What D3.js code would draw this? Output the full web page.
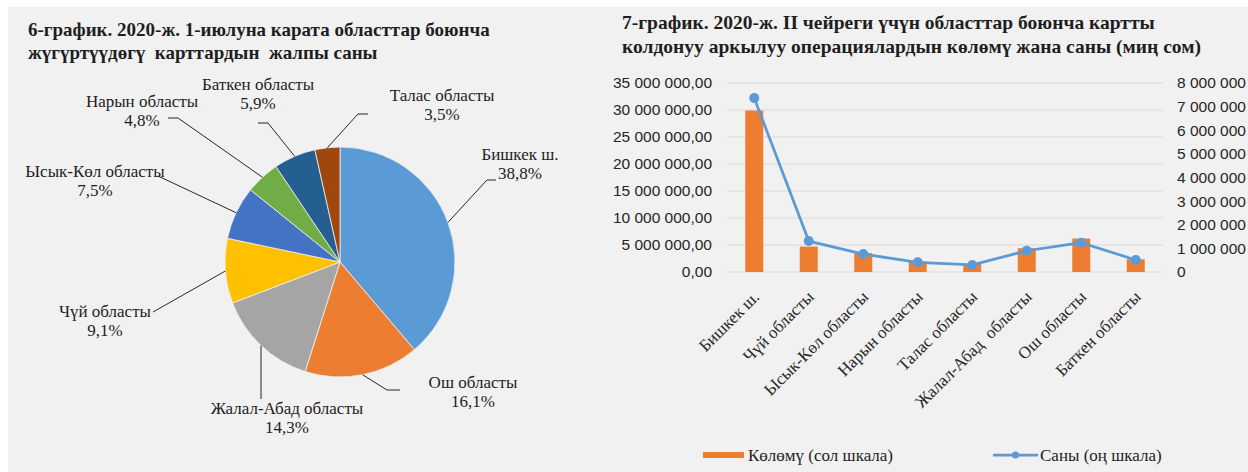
<!DOCTYPE html>
<html>
<head>
<meta charset="utf-8">
<script src="https://cdn.jsdelivr.net/npm/d3@7"></script>
<style>
  html, body { margin: 0; padding: 0; background: #ffffff; }
  svg { display: block; }
</style>
</head>
<body>
<svg id="chart" width="1248" height="472"></svg>
<script>
// ---------- DATA ----------
// Pie (6-график)
const pieCategories = ["Бишкек ш.", "Ош областы", "Жалал-Абад областы", "Чүй областы",
                       "Ысык-Көл областы", "Нарын областы", "Баткен областы", "Талас областы"];
const pieShares = [38.8, 16.1, 14.3, 9.1, 7.5, 4.8, 5.9, 3.5];

// Combo chart (7-график)
const categories = ["Бишкек ш.", "Чүй областы", "Ысык-Көл областы", "Нарын областы",
                    "Талас областы", "Жалал-Абад  областы", "Ош областы", "Баткен областы"];
const volumeValues = [29900000, 4700000, 3500000, 1900000, 1500000, 4400000, 6200000, 2350000];
const countValues  = [7360000, 1310000, 760000, 410000, 300000, 900000, 1240000, 510000];
const leftTicks  = [0, 5000000, 10000000, 15000000, 20000000, 25000000, 30000000, 35000000];
const rightTicks = [0, 1000000, 2000000, 3000000, 4000000, 5000000, 6000000, 7000000, 8000000];

const title1 = ["6-график. 2020-ж. 1-июлуна карата областтар боюнча",
                "жүгүртүүдөгү  карттардын  жалпы саны"];
const title2 = ["7-график. 2020-ж. II чейреги үчүн областтар боюнча картты",
                "колдонуу аркылуу операциялардын көлөмү жана саны (миң сом)"];
const legendLabels = ["Көлөмү (сол шкала)", "Саны (оң шкала)"];

// ---------- STYLE / LAYOUT ----------
const pieColors = ["#5b9bd5", "#ed7d31", "#a5a5a5", "#ffc000", "#4472c4", "#70ad47", "#255e91", "#9e480e"];
const serif = "'Liberation Serif', 'Times New Roman', serif";
const sans = "'Liberation Sans', Arial, sans-serif";
const textColor = "#1e1e1e";

// label layout for pie: text centre x, first baseline y, leader path points after the edge point
const pieLabelLayout = [
  { tx: 520, ty: 160, pts: [[487, 180], [496, 180]] },
  { tx: 473, ty: 388, pts: [[387, 390], [400, 390]] },
  { tx: 287, ty: 414, pts: [[261, 399]] },
  { tx: 105, ty: 317, pts: [[153, 312]] },
  { tx: 95,  ty: 177, pts: [[158, 176]] },
  { tx: 142, ty: 107, pts: [[178, 118], [168, 118]] },
  { tx: 258, ty: 90,  pts: [[268, 123], [258, 123]] },
  { tx: 442, ty: 101, pts: [[358, 114], [368, 114]] }
];

const svg = d3.select("#chart");

// background panel
svg.append("rect").attr("x", 8).attr("y", 7).attr("width", 1240).attr("height", 465).attr("fill", "#f1f1f1");

// ---------- TITLES ----------
function drawTitle(lines, x, y0, dy, size) {
  const t = svg.append("text").attr("x", x).attr("y", y0)
    .attr("font-family", serif).attr("font-weight", "bold").attr("font-size", size)
    .attr("fill", textColor).style("white-space", "pre");
  lines.forEach((l, i) => t.append("tspan").attr("x", x).attr("y", y0 + i * dy).text(l));
}
drawTitle(title1, 28, 36, 23, 19);
drawTitle(title2, 622, 29, 24, 19.5);

// ---------- PIE ----------
const cx = 340, cy = 262, R = 115;
const pie = d3.pie().sort(null).value(d => d)(pieShares);
const arc = d3.arc().innerRadius(0).outerRadius(R);
const gPie = svg.append("g").attr("transform", `translate(${cx},${cy})`);
gPie.selectAll("path").data(pie).join("path")
  .attr("d", arc)
  .attr("fill", (d, i) => pieColors[i])
  .attr("stroke", "#f1f1f1").attr("stroke-width", 0.8);

const fmtPct = v => d3.format(".1f")(v).replace(".", ",") + "%";
pie.forEach((d, i) => {
  const a = (d.startAngle + d.endAngle) / 2;
  const ex = cx + R * Math.sin(a), ey = cy - R * Math.cos(a);
  const L = pieLabelLayout[i];
  const pts = [[ex, ey], ...L.pts];
  svg.append("path").attr("d", d3.line()(pts))
    .attr("fill", "none").attr("stroke", "#262626").attr("stroke-width", 1);
  const t = svg.append("text").attr("font-family", serif).attr("font-size", 17)
    .attr("fill", textColor).attr("text-anchor", "middle");
  t.append("tspan").attr("x", L.tx).attr("y", L.ty).text(pieCategories[i]);
  t.append("tspan").attr("x", L.tx).attr("y", L.ty + 19).text(fmtPct(pieShares[i]));
});

// ---------- COMBO CHART ----------
const x0 = 727, x1 = 1163, yTop = 83, yBot = 272;
const x = d3.scaleBand().domain(categories).range([x0, x1]).padding(0);
const yL = d3.scaleLinear().domain([0, 35000000]).range([yBot, yTop]);
const yR = d3.scaleLinear().domain([0, 8000000]).range([yBot, yTop]);

// gridlines
svg.append("g").selectAll("line").data(leftTicks).join("line")
  .attr("x1", x0).attr("x2", x1)
  .attr("y1", d => yL(d)).attr("y2", d => yL(d))
  .attr("stroke", "#d9d9d9").attr("stroke-width", 1.2);

const fmtLeft = v => d3.format(",.2f")(v).replace(/,/g, " ").replace(".", ",");
const fmtRight = v => d3.format(",")(v).replace(/,/g, " ");

const axL = svg.append("g").attr("transform", `translate(${x0},0)`)
  .call(d3.axisLeft(yL).tickValues(leftTicks).tickFormat(fmtLeft).tickSize(0).tickPadding(15));
const axR = svg.append("g").attr("transform", `translate(${x1},0)`)
  .call(d3.axisRight(yR).tickValues(rightTicks).tickFormat(fmtRight).tickSize(0).tickPadding(14));
[axL, axR].forEach(ax => {
  ax.select(".domain").remove();
  ax.selectAll("text").attr("font-family", sans).attr("font-size", 15.5).attr("fill", "#262626");
});

// bars
const bw = x.bandwidth() * 0.33;
svg.append("g").selectAll("rect").data(categories).join("rect")
  .attr("x", d => x(d) + x.bandwidth() / 2 - bw / 2)
  .attr("width", bw)
  .attr("y", (d, i) => yL(volumeValues[i]))
  .attr("height", (d, i) => yBot - yL(volumeValues[i]))
  .attr("fill", "#ed7d31");

// line
const line = d3.line().x((d, i) => x(categories[i]) + x.bandwidth() / 2).y(d => yR(d));
svg.append("path").datum(countValues).attr("d", line)
  .attr("fill", "none").attr("stroke", "#5b9bd5").attr("stroke-width", 2.75).attr("stroke-linejoin", "round");
svg.append("g").selectAll("circle").data(countValues).join("circle")
  .attr("cx", (d, i) => x(categories[i]) + x.bandwidth() / 2)
  .attr("cy", d => yR(d)).attr("r", 5).attr("fill", "#5b9bd5");

// category axis
const axX = svg.append("g").attr("transform", `translate(0,${yBot})`)
  .call(d3.axisBottom(x).tickSize(0));
axX.select(".domain").remove();
axX.selectAll("text")
  .attr("font-family", serif).attr("font-size", 17).attr("fill", "#262626")
  .attr("text-anchor", "end").attr("y", 0).attr("dy", 0).attr("x", 0)
  .style("white-space", "pre")
  .attr("transform", "translate(6,26) rotate(-45)");

// legend
const lg = svg.append("g");
lg.append("rect").attr("x", 703).attr("y", 452).attr("width", 41).attr("height", 6).attr("fill", "#ed7d31");
lg.append("text").attr("x", 748).attr("y", 461).attr("font-family", serif).attr("font-size", 17)
  .attr("fill", textColor).text(legendLabels[0]);
lg.append("line").attr("x1", 993).attr("x2", 1038).attr("y1", 455).attr("y2", 455)
  .attr("stroke", "#5b9bd5").attr("stroke-width", 2.75);
lg.append("circle").attr("cx", 1015.5).attr("cy", 455).attr("r", 3.5).attr("fill", "#5b9bd5");
lg.append("text").attr("x", 1040).attr("y", 461).attr("font-family", serif).attr("font-size", 17)
  .attr("fill", textColor).text(legendLabels[1]);
</script>
</body>
</html>
